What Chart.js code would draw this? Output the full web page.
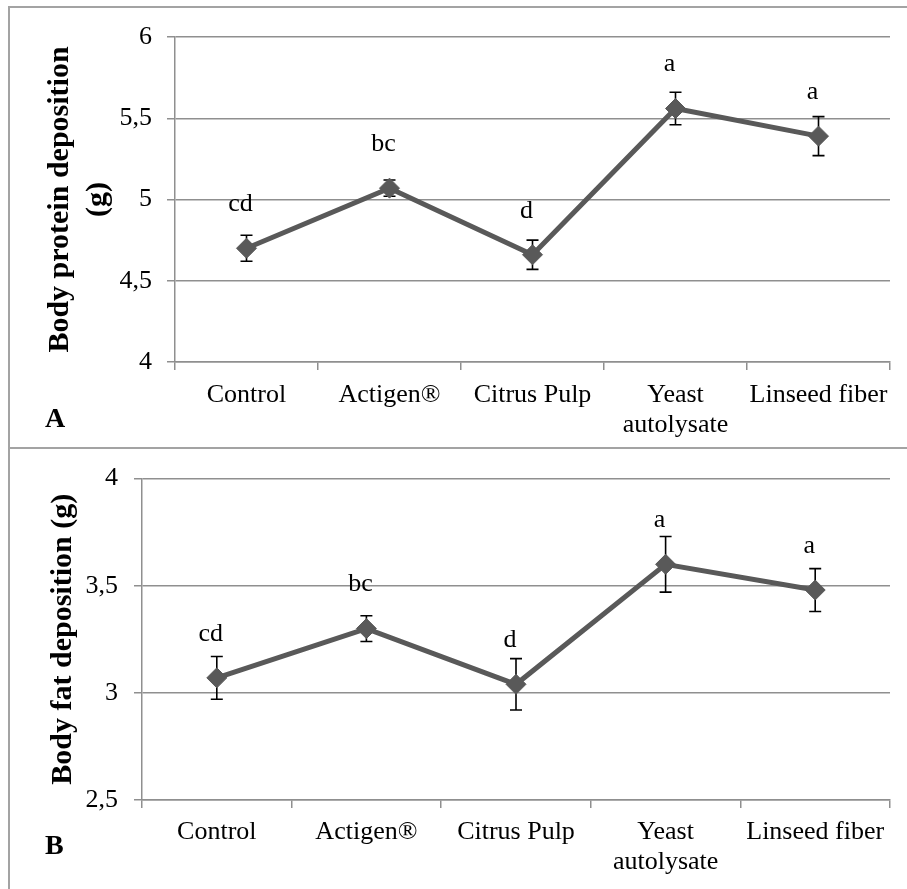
<!DOCTYPE html>
<html>
<head>
<meta charset="utf-8">
<script src="https://cdn.jsdelivr.net/npm/chart.js@4.4.0/dist/chart.umd.min.js"></script>
<style>
  body { margin:0; background:#fff; }
  #wrap { position:relative; width:907px; height:889px; overflow:hidden; background:#fff; }
  canvas { position:absolute; left:0; }
  .line { position:absolute; background:#a3a3a3; }
</style>
</head>
<body>
<div id="wrap">
  <canvas id="chartA" width="907" height="447" style="top:0"></canvas>
  <canvas id="chartB" width="907" height="442" style="top:447px"></canvas>
  <div class="line" style="left:8px;top:7px;width:2px;height:882px"></div>
  <div class="line" style="left:8px;top:6px;width:899px;height:2px"></div>
  <div class="line" style="left:8px;top:447px;width:899px;height:2px"></div>
</div>
<script>
// data
const categories = ['Control', 'Actigen®', 'Citrus Pulp', ['Yeast', 'autolysate'], 'Linseed fiber']
const letters = ['cd', 'bc', 'd', 'a', 'a']

const proteinValues = [4.70, 5.07, 4.66, 5.56, 5.39]
const proteinErr = [0.08, 0.05, 0.09, 0.10, 0.12]
const proteinTicks = { min: 4, max: 6, step: 0.5 }

const fatValues = [3.07, 3.30, 3.04, 3.60, 3.48]
const fatErr = [0.10, 0.06, 0.12, 0.13, 0.10]
const fatTicks = { min: 2.5, max: 4, step: 0.5 }

const SERIF = "'Liberation Serif', 'Times New Roman', serif"
Chart.defaults.font.family = SERIF
Chart.defaults.color = '#000'

const LINE = '#595959'
const GRID = '#8f8f8f'

// error bars drawn under the markers
const errorBars = {
  id: 'errorBars',
  beforeDatasetsDraw(chart, args, opts){
    const ctx = chart.ctx
    const x = chart.scales.x, y = chart.scales.y
    const vals = chart.data.datasets[0].data
    ctx.save()
    ctx.strokeStyle = '#000'
    ctx.lineWidth = 1.6
    vals.forEach((v, i)=>{
      const px = x.getPixelForValue(i)
      const top = y.getPixelForValue(v + opts.err[i])
      const bot = y.getPixelForValue(v - opts.err[i])
      ctx.beginPath()
      ctx.moveTo(px, top); ctx.lineTo(px, bot)
      ctx.moveTo(px-6, top); ctx.lineTo(px+6, top)
      ctx.moveTo(px-6, bot); ctx.lineTo(px+6, bot)
      ctx.stroke()
    })
    ctx.restore()
  }
}

// significance letters + panel letter
const annotations = {
  id: 'annotations',
  afterDatasetsDraw(chart, args, opts){
    const ctx = chart.ctx
    const x = chart.scales.x, y = chart.scales.y
    const vals = chart.data.datasets[0].data
    ctx.save()
    ctx.fillStyle = '#000'
    ctx.textAlign = 'center'
    ctx.textBaseline = 'middle'
    ctx.font = '26px ' + SERIF
    letters.forEach((l, i)=>{
      ctx.fillText(l, x.getPixelForValue(i) - 6, y.getPixelForValue(vals[i]) - 44)
    })
    ctx.textAlign = 'left'
    ctx.font = 'bold 28px ' + SERIF
    ctx.fillText(opts.panel, 45, opts.panelY)
    ctx.restore()
  }
}

function makeChart(id, values, err, ticks, title, o){
  return new Chart(document.getElementById(id), {
    type: 'line',
    data: {
      labels: categories,
      datasets: [{
        data: values,
        borderColor: LINE,
        borderWidth: 5,
        pointStyle: 'rectRot',
        pointRadius: 10,
        pointBackgroundColor: LINE,
        pointBorderColor: LINE,
        pointBorderWidth: 1,
        tension: 0,
      }]
    },
    options: {
      responsive: false,
      animation: false,
      devicePixelRatio: 1,
      layout: { padding: { top: o.padTop, right: 17, left: 0, bottom: 0 } },
      plugins: {
        legend: { display: false },
        tooltip: { enabled: false },
        errorBars: { err: err },
        annotations: { panel: o.panel, panelY: o.panelY },
      },
      scales: {
        x: {
          offset: true,
          grid: { offset: true, drawOnChartArea: false, color: GRID, lineWidth: 1.5, tickLength: 8 },
          border: { color: GRID, width: 1.5 },
          ticks: { font: { size: 26, lineHeight: 1.15 }, color: '#000', padding: o.xPad, maxRotation: 0, autoSkip: false },
          afterFit: s => { s.height = o.xHeight },
        },
        y: {
          min: ticks.min, max: ticks.max,
          grid: { color: GRID, lineWidth: 1.5, tickLength: 8 },
          border: { color: GRID, width: 1.5 },
          ticks: {
            stepSize: ticks.step, font: { size: 26 }, color: '#000', padding: o.tickPad,
            callback: v => String(v).replace('.', ',')
          },
          title: {
            display: true, text: title, color: '#000',
            font: { size: 30, weight: 'bold', lineHeight: 1.27 },
            padding: { top: o.titlePad, bottom: 0 }
          },
          afterFit: s => { s.width = o.yWidth },
        }
      }
    },
    plugins: [errorBars, annotations]
  })
}

makeChart('chartA', proteinValues, proteinErr, proteinTicks,
  ['Body protein deposition', '(g)'],
  { padTop: 37, xHeight: 85, yWidth: 175, tickPad: 15, xPad: 10, titlePad: 41, panel: 'A', panelY: 420 })

makeChart('chartB', fatValues, fatErr, fatTicks,
  'Body fat deposition (g)',
  { padTop: 31, xHeight: 89, yWidth: 142, tickPad: 16, xPad: 9, titlePad: 44, panel: 'B', panelY: 400 })
</script>
</body>
</html>
